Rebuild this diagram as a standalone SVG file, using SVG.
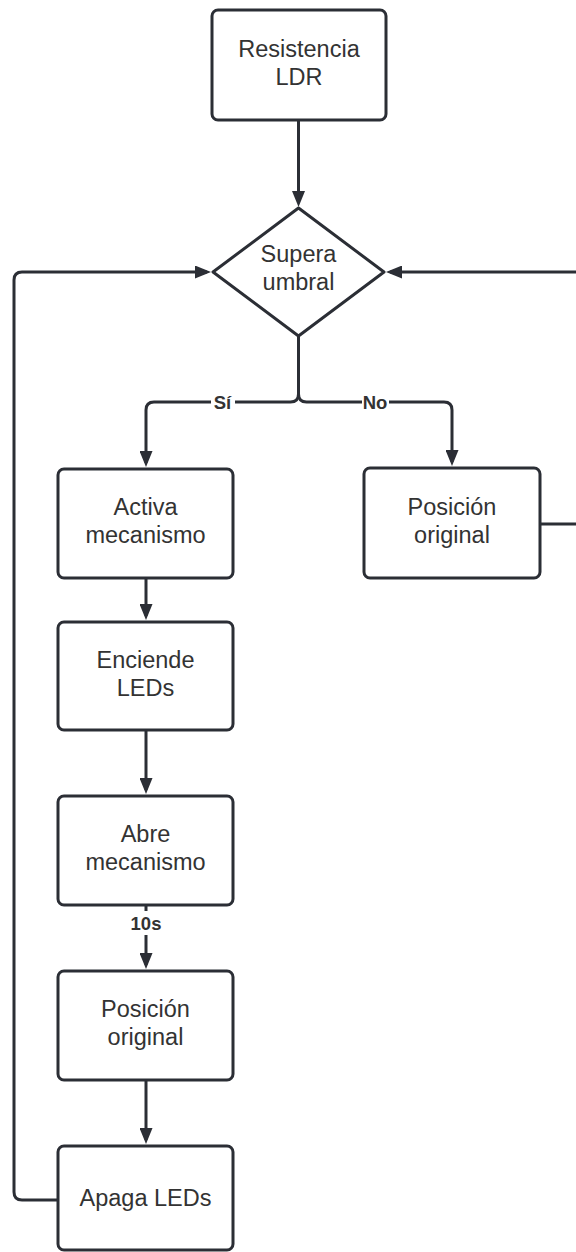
<svg xmlns="http://www.w3.org/2000/svg" width="576" height="1252" viewBox="0 0 576 1252">
<style>
.box{fill:#ffffff;stroke:#2b2e35;stroke-width:3}
.t{font-family:"Liberation Sans",Arial,sans-serif;font-size:23.5px;fill:#333333;text-anchor:middle}
.lbl{font-family:"Liberation Sans",Arial,sans-serif;font-size:18.5px;font-weight:bold;fill:#333333;text-anchor:middle}
.c{fill:none;stroke:#2b2e35;stroke-width:3;stroke-linejoin:round}
</style>
<defs>
<marker id="ah" markerUnits="userSpaceOnUse" markerWidth="16" markerHeight="13" refX="12" refY="6.5" orient="auto">
<path d="M0,0 L16,6.5 L0,13 z" fill="#2b2e35"/>
</marker>
</defs>
<g id="connectors">
<path class="c" d="M298.5,120 V203" marker-end="url(#ah)"/>
<path class="c" d="M298.5,336 V394 Q298.5,402 290.5,402 H154 Q146,402 146,410 V463" marker-end="url(#ah)"/>
<path class="c" d="M298.5,394 Q298.5,402 306.5,402 H444 Q452,402 452,410 V462" marker-end="url(#ah)"/>
<path class="c" d="M540,524 H590 V272 H390" marker-end="url(#ah)"/>
<path class="c" d="M146,578 V616" marker-end="url(#ah)"/>
<path class="c" d="M146,730 V790" marker-end="url(#ah)"/>
<path class="c" d="M146,905 V965" marker-end="url(#ah)"/>
<path class="c" d="M146,1080 V1140" marker-end="url(#ah)"/>
<path class="c" d="M58,1200 H22 Q14,1200 14,1192 V280 Q14,272 22,272 H207" marker-end="url(#ah)"/>
<g id="label-si"><rect x="211" y="392" width="24" height="20" fill="#ffffff"/><text class="lbl" x="222.5" y="408.5">Sí</text></g>
<g id="label-no"><rect x="362" y="392" width="27" height="20" fill="#ffffff"/><text class="lbl" x="375" y="408.5">No</text></g>
<g id="label-10s"><rect x="128" y="911" width="36" height="24" fill="#ffffff"/><text class="lbl" x="146" y="929.5">10s</text></g>
</g>
<g id="resistencia">
<rect class="box" x="212" y="10" width="174" height="110" rx="6"/>
<text class="t" x="299" y="57">Resistencia</text>
<text class="t" x="299" y="85">LDR</text>
</g>
<g id="supera">
<polygon class="box" stroke-linejoin="round" points="298.5,208 384,272 298.5,336 213,272"/>
<text class="t" x="298.5" y="262">Supera</text>
<text class="t" x="298.5" y="290">umbral</text>
</g>
<g id="activa">
<rect class="box" x="58" y="469" width="175" height="109" rx="6"/>
<text class="t" x="145.5" y="515">Activa</text>
<text class="t" x="145.5" y="543">mecanismo</text>
</g>
<g id="posicion-no">
<rect class="box" x="364" y="468" width="176" height="110" rx="6"/>
<text class="t" x="452" y="515">Posición</text>
<text class="t" x="452" y="543">original</text>
</g>
<g id="enciende">
<rect class="box" x="58" y="622" width="175" height="108" rx="6"/>
<text class="t" x="145.5" y="668">Enciende</text>
<text class="t" x="145.5" y="696">LEDs</text>
</g>
<g id="abre">
<rect class="box" x="58" y="796" width="175" height="109" rx="6"/>
<text class="t" x="145.5" y="842">Abre</text>
<text class="t" x="145.5" y="870">mecanismo</text>
</g>
<g id="posicion-si">
<rect class="box" x="58" y="971" width="175" height="109" rx="6"/>
<text class="t" x="145.5" y="1017">Posición</text>
<text class="t" x="145.5" y="1045">original</text>
</g>
<g id="apaga">
<rect class="box" x="58" y="1146" width="175" height="104" rx="6"/>
<text class="t" x="145.5" y="1206">Apaga LEDs</text>
</g>
</svg>
